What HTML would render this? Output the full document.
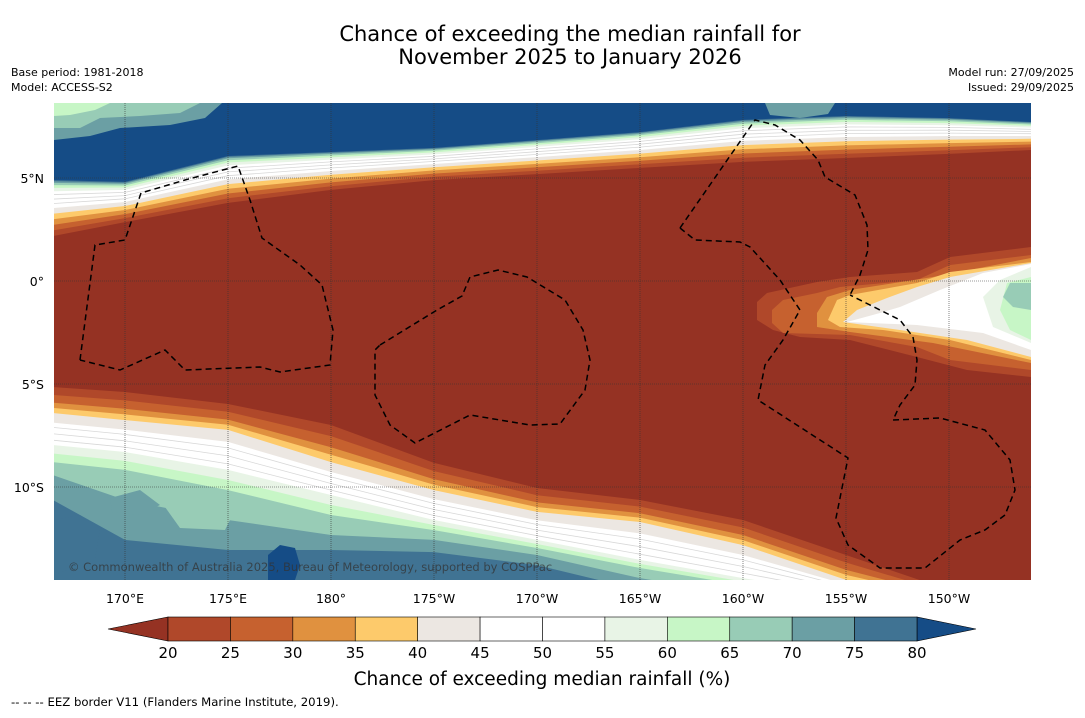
<!DOCTYPE html>
<html><head><meta charset="utf-8"><style>
body{margin:0;background:#fff;}
svg text{font-family:"DejaVu Sans","Liberation Sans",sans-serif;}
</style></head><body>
<svg id="s" width="1085" height="713" viewBox="0 0 1085 713" xmlns="http://www.w3.org/2000/svg">
<text x="570" y="41" text-anchor="middle" font-size="21">Chance of exceeding the median rainfall for</text>
<text x="570" y="64" text-anchor="middle" font-size="21">November 2025 to January 2026</text>
<text x="11" y="76" font-size="11">Base period: 1981-2018</text>
<text x="11" y="91" font-size="11">Model: ACCESS-S2</text>
<text x="1074" y="76" font-size="11" text-anchor="end">Model run: 27/09/2025</text>
<text x="1074" y="91" font-size="11" text-anchor="end">Issued: 29/09/2025</text>
<defs><clipPath id="mc"><rect x="54" y="103" width="977" height="477"/></clipPath></defs>
<g id="map" clip-path="url(#mc)">
<rect x="54" y="103" width="977" height="477" fill="#953223"/>
</g>
<g id="axes"></g>
<g id="cbar"></g>
<text x="542" y="685" text-anchor="middle" font-size="18.5">Chance of exceeding median rainfall (%)</text>
<text x="11" y="706" font-size="11.7">--  --  -- EEZ border V11 (Flanders Marine Institute, 2019).</text>
</svg>
<script>
const NS="http://www.w3.org/2000/svg";
const gridLons=[166.5,170,175,180,185,190,195,200,205,210,214];
const redTopLat=[2.18,2.86,3.79,4.42,4.90,5.19,5.49,5.78,5.97,6.17,6.36];
const blueBottomLat=[4.90,4.81,6.07,6.26,6.46,6.84,7.23,7.82,8.01,7.91,7.72];
const redBotLat=[-5.15,-5.39,-5.97,-6.99,-8.83,-10.05,-10.63,-11.60,-13.30,-15.0,-15.5];
const yelBotLat=[-6.41,-6.75,-7.23,-8.79,-10.15,-11.21,-11.70,-12.82,-14.51,-15.5,-16];
const whiteBotLat=[-7.96,-8.30,-9.17,-10.39,-11.60,-12.57,-13.54,-14.42,-15.24,-16,-16.5];
const greenBotLat=[-8.79,-9.17,-10.15,-11.36,-12.09,-12.96,-13.93,-14.76,-16,-16.5,-17];
const tealBotLat=[-9.42,-10.63,-11.60,-12.33,-12.57,-13.30,-14.42,-15.24,-16.5,-17,-17.5];
const deepBotLat=[-10.63,-12.57,-13.06,-13.06,-13.16,-13.79,-15.0,-16,-17,-17.5,-18];
const lonTicks=[170,175,180,185,190,195,200,205,210];
const lonTickLabels=["170°E","175°E","180°","175°W","170°W","165°W","160°W","155°W","150°W"];
const latTicks=[5,0,-5,-10];
const latTickLabels=["5°N","0°","5°S","10°S"];
const cbarLevels=[20,25,30,35,40,45,50,55,60,65,70,75,80];
const cbarColors=["#b0482a","#c6612f","#e0913f","#fdca6b","#ece7e2","#ffffff","#ffffff","#e8f4e6","#c7f6c6","#98ccb6","#6b9fa4","#407393"];
const xOf=lon=>125+(lon-170)*20.6;
const yOf=lat=>281-lat*20.6;
const map=document.getElementById('map');
function poly(pts,fill,name){
  const p=document.createElementNS(NS,'polygon');
  p.setAttribute('points',pts.map(q=>q[0].toFixed(1)+','+q[1].toFixed(1)).join(' '));
  p.setAttribute('fill',fill);
  
  
  map.appendChild(p);return p;
}
const topLevels=[[0,"#b0482a"],[0.1,"#c6612f"],[0.2,"#e0913f"],[0.3,"#fdca6b"],[0.4,"#ece7e2"],[0.5,"#ffffff"],[0.8,"#e8f4e6"],[0.86,"#c7f6c6"],[0.91,"#98ccb6"],[0.95,"#6b9fa4"],[0.98,"#407393"],[1.0,"#154c86"]];
topLevels.forEach(([f,c],i)=>{
  const edge=gridLons.map((lo,k)=>{const yr=yOf(redTopLat[k]),yb=yOf(blueBottomLat[k]);return [xOf(lo),yr+(yb-yr)*f];});
  poly([[xOf(gridLons[0]),100],...edge,[xOf(gridLons[gridLons.length-1]),100]],c,'north-band-'+i);
});
[0.58,0.66,0.74].forEach(f=>{
  const edge=gridLons.map((lo,k)=>{const yr=yOf(redTopLat[k]),yb=yOf(blueBottomLat[k]);return xOf(lo).toFixed(1)+','+(yr+(yb-yr)*f).toFixed(1);});
  const pl=document.createElementNS(NS,'polyline');pl.setAttribute('points',edge.join(' '));pl.setAttribute('fill','none');pl.setAttribute('stroke','#d8d8d8');pl.setAttribute('stroke-width','0.8');
  
  
  map.appendChild(pl);
});
poly([[54,103],[222,103],[205,118],[170,125],[120,128],[90,136],[54,140]],"#6b9fa4","nw-teal-patch");
poly([[54,103],[200,103],[180,113],[140,116],[100,118],[80,128],[54,128]],"#98ccb6","nw-green-patch");
poly([[54,103],[110,103],[95,110],[70,115],[54,116]],"#c7f6c6","nw-lightgreen-patch");
poly([[765,103],[835,103],[828,114],[800,118],[770,115]],"#6b9fa4","north-teal-patch");
function mix(a,b,t){return a.map((v,k)=>v+(b[k]-v)*t);}
const botLevels=[
 [redBotLat,"#b0482a"],[mix(redBotLat,yelBotLat,0.3),"#c6612f"],[mix(redBotLat,yelBotLat,0.6),"#e0913f"],
 [mix(redBotLat,yelBotLat,0.8),"#fdca6b"],[yelBotLat,"#ece7e2"],[mix(yelBotLat,whiteBotLat,0.3),"#ffffff"],
 [whiteBotLat,"#e8f4e6"],[mix(whiteBotLat,greenBotLat,0.5),"#c7f6c6"],[greenBotLat,"#98ccb6"],
 [tealBotLat,"#6b9fa4"],[deepBotLat,"#407393"]];
botLevels.forEach(([arr,c],i)=>{
  const edge=gridLons.map((lo,k)=>[xOf(lo),yOf(arr[k])]);
  poly([[xOf(gridLons[0]),600],...edge,[xOf(gridLons[gridLons.length-1]),600]],c,'south-band-'+i);
});
[0.45,0.65,0.85].forEach(f=>{
  const a=mix(yelBotLat,whiteBotLat,f);
  const pl=document.createElementNS(NS,'polyline');
  pl.setAttribute('points',gridLons.map((lo,k)=>xOf(lo).toFixed(1)+','+yOf(a[k]).toFixed(1)).join(' '));
  pl.setAttribute('fill','none');pl.setAttribute('stroke','#d8d8d8');pl.setAttribute('stroke-width','0.8');
  
  
  map.appendChild(pl);
});
poly([[160,500],[200,495],[235,510],[225,530],[180,528]],"#98ccb6","sw-teal-blob");
poly([[110,498],[140,490],[160,505],[140,515],[112,512]],"#6b9fa4","sw-dark-teal-blob");
poly([[54,520],[80,515],[100,530],[95,560],[54,575]],"#407393","sw-blue-patch");
poly([[268,555],[280,545],[295,548],[300,565],[295,580],[268,580]],"#154c86","south-deep-blue-blob");
poly([[757,302],[767,293],[817,282],[850,277],[917,272],[950,257],[1031,247],[1031,377],[967,370],[917,357],[850,340],[800,337],[773,330],[757,320]],"#b0482a","tongue-20-25");
poly([[772,310],[783,300],[817,293],[840,287],[917,280],[950,265],[1031,255],[1031,370],[950,360],[917,347],[850,335],[783,333],[772,323]],"#c6612f","tongue-25-30");
poly([[817,313],[827,297],[850,290],[933,277],[1031,258],[1031,363],[933,343],[850,332],[817,327]],"#e0913f","tongue-30-35");
poly([[828,320],[837,300],[850,295],[917,283],[950,272],[1031,262],[1031,360],[950,340],[883,330],[840,327]],"#fdca6b","tongue-35-40");
poly([[843,322],[857,310],[887,298],[917,287],[950,277],[1031,263],[1031,357],[967,340],[900,330]],"#ece7e2","tongue-40-45");
poly([[847,322],[880,313],[900,307],[940,290],[983,273],[1031,264],[1031,350],[983,333],[917,325]],"#ffffff","tongue-45-55");
poly([[983,297],[1000,280],[1031,267],[1031,343],[993,327]],"#e8f4e6","tongue-55-60");
poly([[1000,310],[1007,283],[1031,277],[1031,340],[1010,330]],"#c7f6c6","tongue-60-65");
poly([[1003,297],[1010,283],[1031,283],[1031,310],[1013,307]],"#98ccb6","tongue-65-70");
lonTicks.forEach(lo=>{const l=document.createElementNS(NS,'line');l.setAttribute('x1',xOf(lo));l.setAttribute('x2',xOf(lo));l.setAttribute('y1',103);l.setAttribute('y2',580);l.setAttribute('stroke','#333');l.setAttribute('stroke-width','0.6');l.setAttribute('stroke-dasharray','1,1');


map.appendChild(l);});
latTicks.forEach(la=>{const l=document.createElementNS(NS,'line');l.setAttribute('x1',54);l.setAttribute('x2',1031);l.setAttribute('y1',yOf(la));l.setAttribute('y2',yOf(la));l.setAttribute('stroke','#333');l.setAttribute('stroke-width','0.6');l.setAttribute('stroke-dasharray','1,1');


map.appendChild(l);});
const eez=[
 "80,360 95,245 125,240 141,193 185,180 238,166 250,200 262,238 300,265 322,285 333,330 330,365 280,372 260,367 185,370 165,350 120,370 80,360",
 "380,345 437,310 462,296 470,277 498,270 527,277 565,300 583,330 590,360 585,390 560,424 530,425 470,415 415,443 390,425 375,395 375,350 380,345",
 "680,228 755,120 775,125 800,140 818,160 825,177 855,195 867,225 868,250 860,275 850,295",
 "680,228 695,240 740,242 750,247 780,280 800,310 783,340 765,365 758,400 848,458 836,518 848,545 880,568 925,568 960,540 985,530 1005,515 1015,490 1010,460 985,430 940,418 893,420 900,405 915,385 917,360 913,337 900,320 850,295"];
eez.forEach(pts=>{const pl=document.createElementNS(NS,'polyline');pl.setAttribute('points',pts);pl.setAttribute('fill','none');pl.setAttribute('stroke','#000');pl.setAttribute('stroke-width','1.5');pl.setAttribute('stroke-dasharray','6,4');


map.appendChild(pl);});
const cp=document.createElementNS(NS,'text');cp.setAttribute('x',68);cp.setAttribute('y',571);cp.setAttribute('font-size','11.5');cp.setAttribute('fill','#333');cp.setAttribute('fill-opacity','0.75');
cp.textContent="© Commonwealth of Australia 2025, Bureau of Meteorology, supported by COSPPac";


map.appendChild(cp);
const axes=document.getElementById('axes');
lonTicks.forEach((lo,i)=>{const t=document.createElementNS(NS,'text');t.setAttribute('x',xOf(lo));t.setAttribute('y',603);t.setAttribute('text-anchor','middle');t.setAttribute('font-size','12.5');t.textContent=lonTickLabels[i];


axes.appendChild(t);});
latTicks.forEach((la,i)=>{const t=document.createElementNS(NS,'text');t.setAttribute('x',44);t.setAttribute('y',yOf(la)+5);t.setAttribute('text-anchor','end');t.setAttribute('font-size','12.5');t.textContent=latTickLabels[i];


axes.appendChild(t);});
const cb=document.getElementById('cbar');
const cx=v=>168+(v-20)*(917-168)/60;
const ctop=617,cbot=641;
function cbpoly(pts,fill,name){const p=document.createElementNS(NS,'polygon');p.setAttribute('points',pts);p.setAttribute('fill',fill);p.setAttribute('stroke','#000');p.setAttribute('stroke-width','0.6');


cb.appendChild(p);}
cbpoly(`108,629 ${cx(20)},${ctop} ${cx(20)},${cbot}`,"#953223","colorbar-low-extension");
cbpoly(`976,629 ${cx(80)},${ctop} ${cx(80)},${cbot}`,"#154c86","colorbar-high-extension");
cbarColors.forEach((c,i)=>{const r=document.createElementNS(NS,'rect');r.setAttribute('x',cx(cbarLevels[i]));r.setAttribute('y',ctop);r.setAttribute('width',cx(cbarLevels[i+1])-cx(cbarLevels[i]));r.setAttribute('height',cbot-ctop);r.setAttribute('fill',c);r.setAttribute('stroke','#000');r.setAttribute('stroke-width','0.6');


cb.appendChild(r);});
cbarLevels.forEach(v=>{const t=document.createElementNS(NS,'text');t.setAttribute('x',cx(v));t.setAttribute('y',658);t.setAttribute('text-anchor','middle');t.setAttribute('font-size','15');t.textContent=v;


cb.appendChild(t);});
</script>
</body></html>
